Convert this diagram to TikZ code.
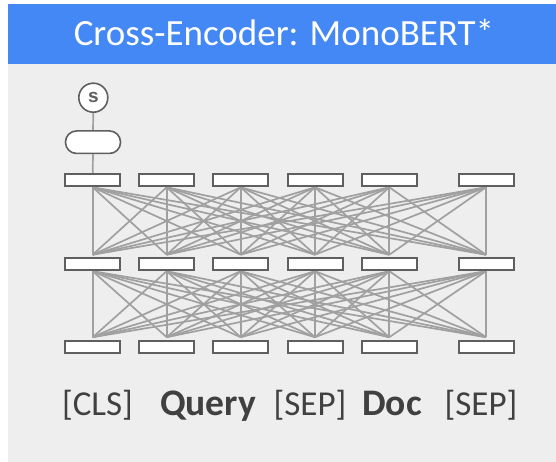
\documentclass[tikz,border=0pt]{standalone}
\usepackage{fontspec}
\setmainfont{Carlito}
\newfontfamily\symfont{Liberation Sans}
\definecolor{headblue}{RGB}{68,136,245}
\definecolor{panel}{RGB}{238,238,238}
\definecolor{edgegray}{RGB}{160,160,160}
\definecolor{framegray}{RGB}{95,95,95}
\definecolor{ink}{RGB}{64,64,64}
\pgfdeclarelayer{bg}
\pgfsetlayers{bg,main}
\begin{document}
\begin{tikzpicture}[x=1pt,y=-1pt,
  tok/.style={draw=framegray, fill=white, line width=2pt,
    minimum width=55pt, minimum height=12pt, inner sep=0pt},
  pool/.style={draw=framegray, fill=white, line width=1.6pt,
    rounded corners=11pt, minimum width=55pt, minimum height=22.5pt, inner sep=0pt},
  score/.style={draw=framegray, fill=white, line width=1.6pt, circle,
    minimum size=29pt, inner sep=0pt, text=framegray,
    font=\symfont\bfseries\fontsize{19}{22}\selectfont},
  link/.style={draw=edgegray, line width=1.7pt},
  lbl/.style={anchor=base, text=ink, font=\fontsize{35}{40}\selectfont, inner sep=0pt},
  lblb/.style={lbl, font=\bfseries\fontsize{37.5}{42}\selectfont},
  title/.style={anchor=base, text=white, font=\fontsize{37}{44}\selectfont, inner sep=0pt}]

\useasboundingbox (0,0) rectangle (556,462);

% token boxes of the three layers
\foreach \x [count=\i] in {92.7,166.7,240.7,315,389.3,486} {
  \node[tok] (t\i) at (\x,180.3) {};
  \node[tok] (m\i) at (\x,264.2) {};
  \node[tok] (b\i) at (\x,346.7) {};
}

% pooled output and score
\node[pool] (p) at (93,142.2) {};
\node[score] (s) at (93.3,97.7) {s};

\begin{pgfonlayer}{bg}
  \fill[white] (0,0) rectangle (556,462);
  \fill[headblue] (8,4) rectangle (556,64);
  \fill[panel] (8,64) rectangle (556,462);
  % fully connected attention between layers
  \foreach \i in {1,...,6} {
    \foreach \j in {1,...,6} {
      \draw[link] (t\i.south) -- ([yshift=2.5pt]m\j.north);
      \draw[link] (m\i.south) -- ([yshift=2.5pt]b\j.north);
    }
  }
  \draw[link] (s.south) -- (p.north);
  \draw[link] (p.south) -- (t1.north);
\end{pgfonlayer}

\node[title] (head) at (284,45.5) {Cross-Encoder: MonoBERT*};

% input token labels
\node[lbl] (l1) at (97.5,415) {[CLS]};
\node[lblb] (l2) at (208,415) {Query};
\node[lbl] (l3) at (310,415) {[SEP]};
\node[lblb] (l4) at (392,415) {Doc};
\node[lbl] (l5) at (481,415) {[SEP]};
\end{tikzpicture}
\end{document}
